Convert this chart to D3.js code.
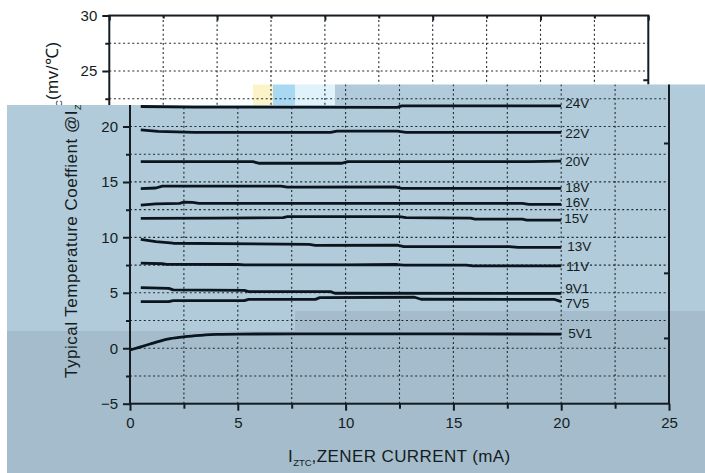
<!DOCTYPE html>
<html><head><meta charset="utf-8">
<script src="https://cdn.jsdelivr.net/npm/d3@7"></script>
<style>
body{margin:0;background:#fff;}
svg{display:block;font-family:Arial,"Liberation Sans",Helvetica,sans-serif;}
</style>
</head><body>
<svg id="chart" width="705" height="473"></svg>
<script>
// ---------- data ----------
const xTickValues = [0, 5, 10, 15, 20, 25];
const xMinorValues = [2.5, 7.5, 12.5, 17.5, 22.5];
const yTickValues = [-5, 0, 5, 10, 15, 20, 25, 30];
const yMinorValues = [-2.5, 2.5, 7.5, 12.5, 17.5, 22.5, 27.5];
const rightTickValues = [24.2, 18.5, 6.8, 0.93];
const seriesNames = ["24V", "22V", "20V", "18V", "16V", "15V", "13V", "11V", "9V1", "7V5", "5V1"];
const v24 = [[0.5,21.8],[3,21.75],[12.4,21.72],[12.6,21.85],[20,21.85]];
const v22 = [[0.5,19.7],[1.3,19.55],[3,19.47],[9.3,19.47],[9.6,19.58],[12.4,19.58],[12.8,19.47],[20,19.47]];
const v20 = [[0.5,16.82],[5.7,16.82],[6,16.68],[9.8,16.68],[10.1,16.82],[18.5,16.82],[20,16.88]];
const v18 = [[0.5,14.4],[1.2,14.45],[1.5,14.62],[7,14.62],[7.3,14.52],[12.3,14.55],[12.6,14.42],[20,14.42]];
const v16 = [[0.5,12.9],[1.2,13.02],[2.3,13.07],[2.5,13.18],[2.9,13.15],[3.2,13.07],[18.2,13.07],[18.5,12.98],[20,12.98]];
const v15 = [[0.5,11.72],[3.9,11.74],[7.1,11.78],[7.3,11.86],[12.5,11.86],[12.8,11.77],[15.8,11.74],[16,11.65],[18.2,11.65],[18.4,11.56],[20,11.56]];
const v13 = [[0.5,9.82],[1.2,9.62],[2,9.47],[8.3,9.37],[8.6,9.28],[12.4,9.3],[12.7,9.17],[17.6,9.16],[18,9.1],[20,9.1]];
const v11 = [[0.5,7.68],[1.5,7.62],[1.7,7.57],[5,7.55],[5.3,7.51],[10,7.52],[12.4,7.55],[12.7,7.5],[15.6,7.5],[15.9,7.42],[20,7.42]];
const v9V1 = [[0.5,5.46],[1.8,5.4],[2,5.26],[5.3,5.22],[5.5,5.1],[9.3,5.1],[9.5,4.96],[20,4.95]];
const v7V5 = [[0.5,4.2],[1.8,4.2],[2,4.29],[5.3,4.29],[5.5,4.41],[8.6,4.41],[8.8,4.56],[13.2,4.6],[13.5,4.42],[19.7,4.4],[20,4.2]];
const v5V1 = [[0,-0.16],[0.46,0.1],[0.93,0.38],[1.39,0.65],[1.86,0.86],[2.55,1.04],[3.25,1.16],[4.02,1.25],[5.1,1.28],[10,1.3],[20,1.28]];
const seriesValues = [v24, v22, v20, v18, v16, v15, v13, v11, v9V1, v7V5, v5V1];

// ---------- layout ----------
const labelNudge = [-3, 1, 0, -1, -2, -2, -1, 0, -5, 1, -1];
const labelShiftX = [0, 0, 0, 0, 0, -1, 2, 1, 0, 0, 3];
const BLUE = "#b1cbda", BLUE_DARK = "#a4bccb", INK = "#141c22";

const svg = d3.select("#chart");
const x = d3.scaleLinear().domain([0, 25]).range([130, 669]);
const y = d3.scaleLinear().domain([-5, 30]).range([403.7, 15.55]);

const defs = svg.append("defs");
const bluePoly = [[7,105],[335,105],[335,84.5],[705,84.5],[705,473],[7,473]];
const whitePoly = [[0,0],[705,0],[705,84.5],[335,84.5],[335,105],[7,105],[7,473],[0,473]];
const pts = a => a.map(p => p.join(",")).join(" ");
defs.append("clipPath").attr("id", "blueClip").append("polygon").attr("points", pts(bluePoly));
defs.append("clipPath").attr("id", "whiteClip").append("polygon").attr("points", pts(whitePoly));

function drawChart(g, labelOff) {
  const grid = g.append("g").attr("stroke", "#1f2a33").attr("stroke-width", 1.1)
    .attr("stroke-dasharray", "2,2.6").attr("fill", "none");
  yMinorValues.concat(yTickValues.filter(v => v > -5 && v < 30)).forEach(v => {
    grid.append("line").attr("x1", x(0)).attr("x2", x(25)).attr("y1", y(v)).attr("y2", y(v));
  });
  xMinorValues.concat(xTickValues.filter(v => v > 0 && v < 25)).forEach(v => {
    grid.append("line").attr("x1", x(v)).attr("x2", x(v)).attr("y1", y(-5)).attr("y2", y(30));
  });

  g.append("rect").attr("x", x(0)).attr("y", y(30)).attr("width", x(25) - x(0)).attr("height", y(-5) - y(30))
    .attr("fill", "none").attr("stroke", INK).attr("stroke-width", 2);

  const bottom = g.append("g").attr("transform", `translate(0,${y(-5)})`)
    .call(d3.axisBottom(x).tickValues(xTickValues).tickSize(7).tickPadding(7).tickFormat(d3.format("d")));
  bottom.append("g").call(d3.axisBottom(x).tickValues(xMinorValues).tickSize(5).tickFormat(""));
  const top = g.append("g").attr("transform", `translate(0,${y(30)})`)
    .call(d3.axisBottom(x).tickValues(xTickValues).tickSize(5).tickFormat(""));
  top.append("g").call(d3.axisBottom(x).tickValues(xMinorValues).tickSize(3).tickFormat(""));
  const left = g.append("g").attr("transform", `translate(${x(0)},0)`)
    .call(d3.axisLeft(y).tickValues(yTickValues).tickSize(7).tickPadding(5).tickFormat(d3.format("d")));
  left.append("g").call(d3.axisLeft(y).tickValues(yMinorValues).tickSize(4).tickFormat(""));
  g.append("g").attr("transform", `translate(${x(25)},0)`)
    .call(d3.axisLeft(y).tickValues(rightTickValues).tickSize(5).tickFormat(""));

  g.selectAll(".domain").remove();
  g.selectAll(".tick line").attr("stroke", INK).attr("stroke-width", 2);
  g.selectAll(".tick text").attr("fill", INK).attr("font-size", 15)
    .attr("font-family", "Arial, 'Liberation Sans', sans-serif");

  const lineGen = d3.line().x(d => x(d[0])).y(d => y(d[1]));
  seriesValues.forEach((vals, i) => {
    const gen = seriesNames[i] === "5V1" ? lineGen.curve(d3.curveMonotoneX) : lineGen.curve(d3.curveLinear);
    g.append("path").datum(vals).attr("d", gen).attr("fill", "none")
      .attr("stroke", "#0b151e").attr("stroke-width", 2.8).attr("stroke-linejoin", "round");
    const last = vals[vals.length - 1];
    g.append("text").attr("x", x(last[0]) + 4 + labelShiftX[i]).attr("y", y(last[1]) + labelNudge[i])
      .attr("dy", "0.36em").attr("font-size", 13.5).attr("fill", INK).text(seriesNames[i]);
  });

  const yt = g.append("text")
    .attr("transform", `translate(${77 + labelOff[0]},${378 + labelOff[1]}) rotate(-90)`)
    .attr("font-size", 17).attr("letter-spacing", 0.5).attr("fill", INK);
  yt.append("tspan").text("Typical Temperature Coeffient @I");
  yt.append("tspan").attr("dy", 4).attr("font-size", 9.5).attr("letter-spacing", 0).text("ZTC");
  yt.append("tspan").attr("dy", -4).text("(mv/\u2103)");

  const xt = g.append("text").attr("x", 288).attr("y", 462)
    .attr("font-size", 17).attr("letter-spacing", 0.4).attr("fill", INK);
  xt.append("tspan").text("I");
  xt.append("tspan").attr("dy", 4).attr("font-size", 9.5).attr("letter-spacing", 0).text("ZTC");
  xt.append("tspan").attr("dy", -4).text(",ZENER CURRENT (mA)");
}

const patches = [[253, 273, "#fcf4c8"], [273, 295, "#a9d8f2"], [295, 335, "#e0f3fb"]];
patches.forEach(p => svg.append("rect").attr("x", p[0]).attr("y", 84.5).attr("width", p[1] - p[0]).attr("height", 20.5).attr("fill", p[2]));

// upper (white) piece of the scan, shifted left
drawChart(svg.append("g").attr("clip-path", "url(#whiteClip)")
  .append("g").attr("transform", "translate(-20.7,0)"), [1.7, 8.5]);

svg.append("polygon").attr("points", pts(bluePoly)).attr("fill", BLUE);
const darkPoly = [[7,331],[295,331],[295,311],[705,311],[705,473],[7,473]];
svg.append("polygon").attr("points", pts(darkPoly)).attr("fill", BLUE_DARK);

// lower (blue) piece
drawChart(svg.append("g").attr("clip-path", "url(#blueClip)"), [0, 0]);
</script>
</body></html>
